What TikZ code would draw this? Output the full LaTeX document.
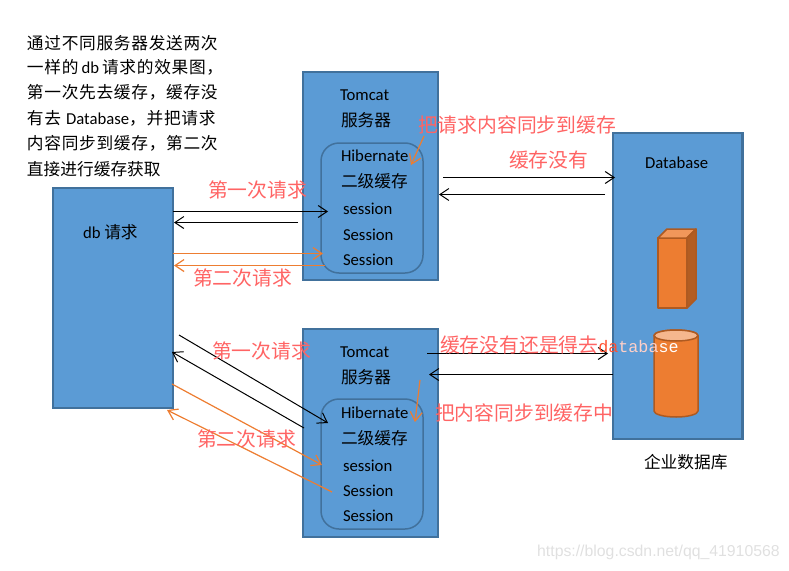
\documentclass[tikz,border=0pt]{standalone}
\usepackage{fontspec}
\usetikzlibrary{arrows.meta}
\setmainfont{Noto Sans CJK SC}
\newfontfamily\carl{Carlito}
\newfontfamily\mon{Liberation Mono}
\newfontfamily\wm{Liberation Sans}
\newfontfamily\spaced[LetterSpace=4.2]{Noto Sans CJK SC}
\definecolor{bluefill}{HTML}{5B9BD5}
\definecolor{blueedge}{HTML}{41719C}
\definecolor{orangefill}{HTML}{ED7D31}
\definecolor{orangeedge}{HTML}{AE5A21}
\definecolor{redlabel}{HTML}{FF6464}
\definecolor{redlatin}{HTML}{FF5030}
\definecolor{palelatin}{HTML}{FFD0C8}
\tikzset{
  x=1pt,y=-1pt,
  panel/.style={draw=blueedge,fill=bluefill,line width=2.4pt,anchor=north west,inner sep=0pt,outer sep=0pt},
  innerpanel/.style={draw=blueedge,line width=1.5pt,rounded corners=18pt,anchor=north west,inner sep=0pt,outer sep=0pt,minimum width=102pt,minimum height=130pt},
  tx/.style={anchor=west,inner sep=0pt,outer sep=0pt,text height=14pt,text depth=3pt,font=\fontsize{16.7}{20}\selectfont,text=black},
  cjktx/.style={tx,yshift=-2pt},
  introtx/.style={tx,yshift=-1.5pt,font=\fontsize{16.7}{20}\selectfont\spaced},
  redtx/.style={anchor=west,inner sep=0pt,outer sep=0pt,text height=15pt,text depth=3pt,yshift=-1.5pt,font=\fontsize{19.8}{22}\selectfont,text=redlabel},
  blk/.style={draw=black,line width=1pt,-{Straight Barb[length=9pt,width=12pt,line width=1pt]}},
  org/.style={draw=orangefill,line width=1.2pt,-{Straight Barb[length=9pt,width=12pt,line width=1.2pt]}},
  solidor/.style={fill=orangefill,draw=orangeedge,line width=1.5pt,line join=round},
}
\begin{document}
\begin{tikzpicture}
\useasboundingbox (0,0) rectangle (789,570);
% panels
\node[panel,minimum width=120pt,minimum height=220pt] (db) at (53,188) {};
\node[panel,minimum width=135pt,minimum height=208pt] (tc1) at (303,72) {};
\node[panel,minimum width=135pt,minimum height=208pt] (tc2) at (303,329) {};
\node[panel,minimum width=129.5pt,minimum height=306pt] (store) at (613,133) {};
\node[innerpanel] (in1) at (321,143) {};
\node[innerpanel] (in2) at (321,399) {};
% cuboid
\draw[solidor] (658,238) rectangle (687,308);
\draw[solidor,fill=orangefill!80!white] (658,238) -- (667,229) -- (696,229) -- (687,238) -- cycle;
\draw[solidor,fill=orangeedge!92!orangefill] (687,238) -- (696,229) -- (696,299) -- (687,308) -- cycle;
% cylinder
\draw[solidor] (654,335.5) -- (654,411) arc[start angle=180,end angle=360,x radius=22,y radius=-6] -- (698,335.5) arc[start angle=0,end angle=180,x radius=22,y radius=-5.5] -- cycle;
\draw[solidor,fill=orangefill!55!white] (676,335.5) ellipse[x radius=22,y radius=5.5];
% intro text
\node[introtx] (t1) at (27,42) {通过不同服务器发送两次};
\node[introtx] (t2) at (27,66) {一样的\hspace{3pt}{\carl db}\hspace{3pt}请求的效果图，};
\node[introtx] (t3) at (27,91) {第一次先去缓存，缓存没};
\node[introtx] (t4) at (27,117) {有去\hspace{5pt}{\carl Database}，并把请求};
\node[introtx] (t5) at (27,142) {内容同步到缓存，第二次};
\node[tx,yshift=-1.5pt] (t6) at (27,168) {直接进行缓存获取};
% box text
\node[tx,yshift=-1pt] (dbl) at (83,232) {{\carl db} 请求};
\node[tx] (a1) at (340,95) {\carl Tomcat};
\node[cjktx] (a2) at (341,119) {服务器};
\node[tx] (a3) at (341,156) {\carl Hibernate};
\node[cjktx] (a4) at (341,180) {二级缓存};
\node[tx] (a5) at (343,209) {\carl session};
\node[tx] (a6) at (343,235) {\carl Session};
\node[tx] (a7) at (343,260) {\carl Session};
\node[tx] (b1) at (340,352) {\carl Tomcat};
\node[cjktx] (b2) at (341,376) {服务器};
\node[tx] (b3) at (341,413) {\carl Hibernate};
\node[cjktx] (b4) at (341,437) {二级缓存};
\node[tx] (b5) at (343,466) {\carl session};
\node[tx] (b6) at (343,491) {\carl Session};
\node[tx] (b7) at (343,516) {\carl Session};
\node[tx] (dbname) at (645,163) {\carl Database};
\node[cjktx] (corp) at (644,461) {企业数据库};
% connector ends
\coordinate (p1) at (173,211.5); \coordinate (p2) at (328,211.5);
\coordinate (p3) at (298,222.5); \coordinate (p4) at (174,222.5);
\coordinate (p5) at (173,253.5); \coordinate (p6) at (323,253.5);
\coordinate (p7) at (325,265.5); \coordinate (p8) at (174,265.5);
\coordinate (q1) at (443,177.5); \coordinate (q2) at (615,177.5);
\coordinate (q3) at (605,194.5); \coordinate (q4) at (439,194.5);
\coordinate (q5) at (424,136); \coordinate (q6) at (411,165);
\coordinate (r1) at (179,335); \coordinate (r2) at (328,423);
\coordinate (r3) at (304,428); \coordinate (r4) at (172,352);
\coordinate (r5) at (172,384); \coordinate (r6) at (322,465);
\coordinate (r7) at (332,492); \coordinate (r8) at (167,410);
\coordinate (s1) at (427,353.5); \coordinate (s2) at (608,353.5);
\coordinate (s3) at (613,374.5); \coordinate (s4) at (429,374.5);
\coordinate (s5) at (420,380); \coordinate (s6) at (415,422);
\draw[blk] (p1) -- (p2);
\draw[blk] (p3) -- (p4);
\draw[org] (p5) -- (p6);
\draw[org] (p7) -- (p8);
\draw[blk] (q1) -- (q2);
\draw[blk] (q3) -- (q4);
\draw[org] (q5) -- (q6);
\draw[blk] (r1) -- (r2);
\draw[blk] (r3) -- (r4);
\draw[org] (r5) -- (r6);
\draw[org] (r7) -- (r8);
\draw[blk] (s1) -- (s2);
\draw[blk] (s3) -- (s4);
\draw[org] (s5) -- (s6);
% red labels
\node[redtx] (l1) at (208,190) {第一次请求};
\node[redtx] (l2) at (193,278) {第二次请求};
\node[redtx] (l3) at (212,351) {第一次请求};
\node[redtx] (l4) at (197,439) {第二次请求};
\node[redtx] (l5) at (418,125) {把请求内容同步到缓存};
\node[redtx] (l6) at (509,160) {缓存没有};
\node[redtx] (l7) at (440,345) {缓存没有还是得去{\mon\fontsize{16.7}{20}\selectfont\color{redlatin}da\color{palelatin}taba\color{white}se}};
\node[redtx] (l8) at (435,413) {把内容同步到缓存中};
% watermark
\node[anchor=west,inner sep=0pt,text=black!12,font=\wm\fontsize{15.8}{18}\selectfont] (mark) at (537,552) {https://blog.csdn.net/qq\_41910568};
\end{tikzpicture}
\end{document}
